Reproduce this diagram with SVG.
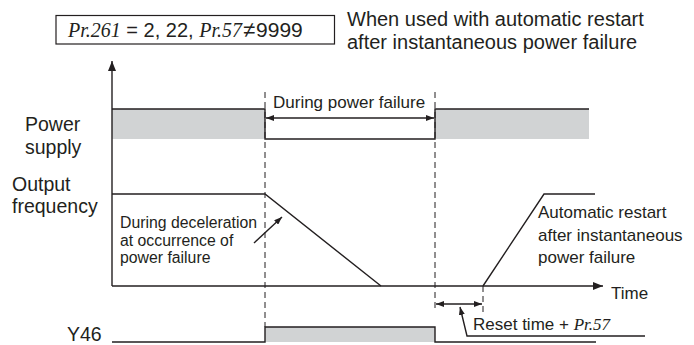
<svg xmlns="http://www.w3.org/2000/svg" width="694" height="345" viewBox="0 0 694 345">
<style>
.t{font-family:"Liberation Sans",Arial,sans-serif;fill:#231f20}
.big{font-size:19.5px}
.mid{font-size:17px}
.sm{font-size:15.8px}
.it{font-family:"Liberation Serif","Times New Roman",serif;font-style:italic}
.ln{stroke:#231f20;stroke-width:1.4;fill:none}
.dash{stroke:#231f20;stroke-width:1;stroke-dasharray:6,4;fill:none}
.gray{fill:#d1d3d4;stroke:none}
</style>
<defs>
<marker id="ah" viewBox="0 0 10 8" refX="10" refY="4" markerWidth="10" markerHeight="8" markerUnits="userSpaceOnUse" orient="auto-start-reverse">
<path d="M0,0 L10,4 L0,8 Z" fill="#231f20"/>
</marker>
<marker id="ahs" viewBox="0 0 8 6" refX="8" refY="3" markerWidth="8" markerHeight="6" markerUnits="userSpaceOnUse" orient="auto-start-reverse">
<path d="M0,0 L8,3 L0,6 Z" fill="#231f20"/>
</marker>
</defs>

<g id="condition">
<rect x="56" y="15.5" width="278.5" height="28.5" fill="#fff" stroke="#231f20" stroke-width="1.2"/>
<text class="t" x="68" y="37" font-size="20"><tspan class="it">Pr.261</tspan> = 2, 22, <tspan class="it">Pr.57</tspan><tspan dx="1" font-size="22">≠</tspan><tspan dx="1" font-size="21">9999</tspan></text>
</g>
<g id="title">
<text class="t" font-size="20" x="347" y="26">When used with automatic restart</text>
<text class="t" font-size="20" x="347" y="49">after instantaneous power failure</text>
</g>

<g id="labels">
<text class="t big" x="25" y="131">Power</text>
<text class="t big" x="25" y="154">supply</text>
<text class="t big" x="12" y="191">Output</text>
<text class="t big" x="12" y="213">frequency</text>
<text class="t big" x="67" y="341">Y46</text>
<text class="t mid" x="611" y="299">Time</text>
</g>

<g id="power-supply">
<rect class="gray" x="112" y="109" width="153" height="30"/>
<rect class="gray" x="435" y="109" width="154" height="30"/>
<polyline class="ln" points="112,109 265,109 265,139 435,139 435,109 589,109"/>
<text class="t mid" x="273" y="108">During power failure</text>
</g>

<g id="output-frequency">
<polyline class="ln" points="112,194 265,194 381,286"/>
<polyline class="ln" points="483,286 544,194 595,194"/>
<text class="t sm" x="120" y="228">During deceleration</text>
<text class="t sm" x="120" y="246">at occurrence of</text>
<text class="t sm" x="120" y="263">power failure</text>
<text class="t mid" x="538" y="218">Automatic restart</text>
<text class="t mid" x="538" y="241">after instantaneous</text>
<text class="t mid" x="538" y="263">power failure</text>
</g>

<g id="y46">
<rect class="gray" x="265" y="327" width="170" height="15"/>
<polyline class="ln" points="112,342 265,342 265,327 435,327 435,342 596,342"/>
<text class="t mid" x="473" y="330">Reset time + <tspan class="it">Pr.57</tspan></text>
</g>

<g id="connectors">
<line class="ln" x1="112" y1="286" x2="112" y2="61" marker-end="url(#ah)"/>
<line class="ln" x1="112" y1="286" x2="603" y2="286" marker-end="url(#ah)"/>
<line class="dash" x1="265" y1="92" x2="265" y2="327"/>
<line class="dash" x1="435" y1="92" x2="435" y2="312"/>
<line class="dash" x1="483" y1="286" x2="483" y2="312"/>
<line class="ln" x1="266" y1="118" x2="434" y2="118" marker-start="url(#ahs)" marker-end="url(#ahs)"/>
<line class="ln" x1="436" y1="304" x2="482" y2="304" marker-start="url(#ahs)" marker-end="url(#ahs)"/>
<polyline class="ln" points="645,336 467,336 460,307" marker-end="url(#ahs)"/>
<line class="ln" x1="254" y1="243" x2="282" y2="217" marker-end="url(#ahs)"/>
</g>
</svg>
